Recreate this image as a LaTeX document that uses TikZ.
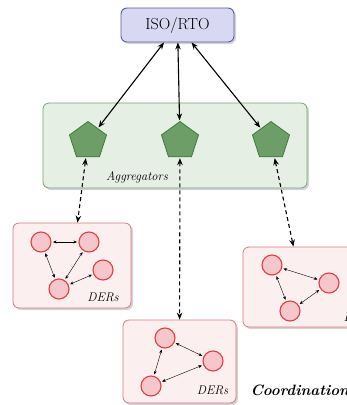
\documentclass[tikz,border=0pt]{standalone}
\usetikzlibrary{shapes.geometric,shadows,arrows.meta}

\definecolor{isofill}{HTML}{D8D8F2}
\definecolor{isodraw}{HTML}{5858A8}
\definecolor{groupfill}{HTML}{E6EFE3}
\definecolor{groupdraw}{HTML}{70A870}
\definecolor{aggfill}{HTML}{6E9E68}
\definecolor{aggdraw}{HTML}{3F7A3F}
\definecolor{derboxfill}{HTML}{FCEFEF}
\definecolor{derboxdraw}{HTML}{E07878}
\definecolor{derfill}{HTML}{F5C6CB}
\definecolor{derdraw}{HTML}{E0403E}

\begin{document}
\begin{tikzpicture}[x=1pt, y=-1pt]
  \tikzset{
    shade box/.style={drop shadow={shadow xshift=2pt, shadow yshift=-2pt, opacity=0.35}},
    iso box/.style={shade box, rectangle, rounded corners=6pt, draw=isodraw, fill=isofill, line width=0.9pt,
      minimum width=113pt, minimum height=34pt, font=\fontsize{16}{18}\selectfont},
    group box/.style={shade box, rectangle, rounded corners=6pt, draw=groupdraw, fill=groupfill, line width=0.8pt,
      minimum width=264pt, minimum height=85pt},
    agg node/.style={regular polygon, regular polygon sides=5, draw=aggdraw, fill=aggfill, line width=0.8pt,
      minimum size=39pt, inner sep=0pt},
    der box/.style={shade box, rectangle, rounded corners=6pt, draw=derboxdraw, fill=derboxfill, line width=0.8pt},
    der node/.style={circle, draw=derdraw, fill=derfill, line width=1.1pt, minimum size=20pt, inner sep=0pt},
    tag/.style={font=\fontsize{12.5}{14}\selectfont\itshape},
    link/.style={<->, >={Stealth[length=3.5pt, width=3pt]}, shorten <=1.5pt, shorten >=1.5pt},
    control/.style={<->, >={Stealth[length=7pt, width=5.5pt]}, line width=1.1pt},
    dispatch/.style={control, dash pattern=on 4pt off 3pt}
  }

  \useasboundingbox (0,0) rectangle (347,405);
  \clip (0,0) rectangle (347,405);

  % Operator on top
  \node[iso box] (iso) at (177.5,25) {ISO/RTO};

  % Aggregator group
  \node[group box] (group) at (175,145.5) {};
  \node[agg node] (agg1) at (88,141) {};
  \node[agg node] (agg2) at (180,141) {};
  \node[agg node] (agg3) at (271,141) {};
  \node[tag] (aggtxt) at (137,177) {Aggregators};

  % DER boxes
  \node[der box, minimum width=118pt, minimum height=85pt] (der1) at (72,265.5) {};
  \node[der box, minimum width=118pt, minimum height=80pt] (der2) at (302,287) {};
  \node[der box, minimum width=113pt, minimum height=83pt] (der3) at (179.5,361.5) {};

  % DERs in the left box
  \node[der node] (d11) at (41,242) {};
  \node[der node] (d12) at (89,242) {};
  \node[der node] (d13) at (103,270) {};
  \node[der node] (d14) at (59,289) {};
  \node[tag] (lab1) at (103,297) {DERs};

  % DERs in the right box
  \node[der node] (d21) at (272,265) {};
  \node[der node] (d22) at (329,283) {};
  \node[der node] (d23) at (290,311) {};
  \node[tag, anchor=west] (lab2) at (340,317) {DERs};

  % DERs in the bottom box
  \node[der node] (d31) at (165,338) {};
  \node[der node] (d32) at (213,361) {};
  \node[der node] (d33) at (151,386) {};
  \node[tag] (lab3) at (212.5,390) {DERs};

  % Links between DERs
  \draw[link] (d11) -- (d12);
  \draw[link] (d11) -- (d14);
  \draw[link] (d12) -- (d14);
  \draw[link] (d13) -- (d14);
  \draw[link] (d21) -- (d22);
  \draw[link] (d21) -- (d23);
  \draw[link] (d22) -- (d23);
  \draw[link] (d31) -- (d32);
  \draw[link] (d31) -- (d33);
  \draw[link] (d32) -- (d33);

  % Operator to aggregators
  \draw[control, shorten >=1pt] (iso) -- (agg1);
  \draw[control, shorten >=1pt] (iso) -- (agg2);
  \draw[control, shorten >=1pt] (iso) -- (agg3);

  % Aggregators to DER boxes
  \draw[dispatch, shorten <=1pt] (agg1) -- (der1);
  \draw[dispatch, shorten <=1pt] (agg2) -- (der3);
  \draw[dispatch, shorten <=1pt] (agg3) -- (der2);

  % Caption at the bottom
  \node[anchor=west, font=\fontsize{15}{17}\selectfont\bfseries\itshape] (coord) at (247,390) {Coordination};

\end{tikzpicture}
\end{document}
